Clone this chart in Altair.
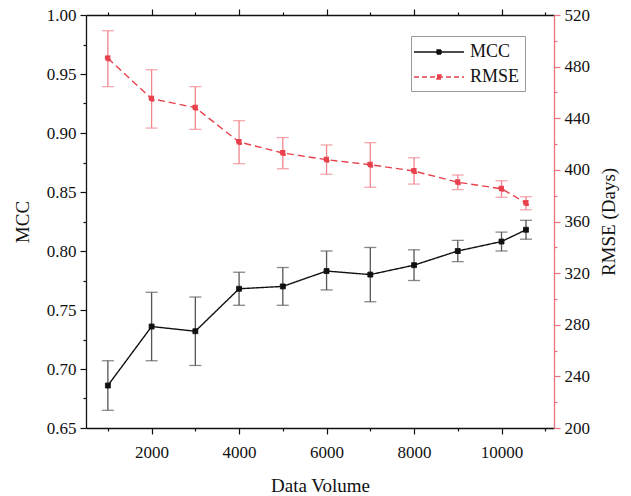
import altair as alt
import pandas as pd

# ---------------- data ----------------
volume = [1000, 2000, 3000, 4000, 5000, 6000, 7000, 8000, 9000, 10000, 10560]

mcc = [0.686, 0.736, 0.732, 0.768, 0.770, 0.783, 0.780, 0.788, 0.800, 0.808, 0.818]
mcc_lo = [0.665, 0.707, 0.703, 0.754, 0.754, 0.767, 0.757, 0.775, 0.791, 0.800, 0.810]
mcc_hi = [0.707, 0.765, 0.761, 0.782, 0.786, 0.800, 0.803, 0.801, 0.809, 0.816, 0.826]

rmse = [486.4, 455.2, 448.2, 421.6, 413.1, 407.9, 404.0, 399.1, 390.4, 385.4, 374.3]
rmse_lo = [464.5, 432.4, 431.4, 404.8, 400.9, 396.6, 386.5, 389.0, 384.7, 378.8, 369.1]
rmse_hi = [507.8, 477.6, 464.5, 438.1, 425.0, 419.3, 421.1, 409.4, 396.0, 391.6, 379.2]

series_names = ["MCC", "RMSE"]
x_tick_values = list(range(1000, 11001, 1000))
mcc_tick_values = [round(0.65 + 0.025 * i, 3) for i in range(15)]
rmse_tick_values = list(range(200, 521, 20))

mcc_df = pd.DataFrame({"volume": volume, "value": mcc, "lo": mcc_lo, "hi": mcc_hi, "series": "MCC"})
rmse_df = pd.DataFrame({"volume": volume, "value": rmse, "lo": rmse_lo, "hi": rmse_hi, "series": "RMSE"})

# ---------------- style ----------------
FONT = "Liberation Serif"
BLACK = "#111111"
RED = "#e8404c"
RED_LIGHT = "#f0858c"
RED_AXIS = "#e87480"
GRAY = "#555555"

x_scale = alt.Scale(domain=[500, 11200], nice=False, zero=False)
mcc_scale = alt.Scale(domain=[0.65, 1.0], nice=False, zero=False)
rmse_scale = alt.Scale(domain=[200, 520], nice=False, zero=False)

x_major = "datum.value % 2000 === 0"
x_tick_size = {"condition": {"test": x_major, "value": 6}, "value": 3}

x_bottom = alt.Axis(
    orient="bottom", values=x_tick_values,
    labelExpr=f"{x_major} ? format(datum.value, 'd') : ''",
    tickSize=x_tick_size, labelPadding=10, title="Data Volume", titlePadding=16,
    domainColor=BLACK, tickColor=BLACK,
)
x_top = alt.Axis(
    orient="top", values=x_tick_values, labels=False, title=None,
    tickSize=x_tick_size, domainColor=BLACK, tickColor=BLACK,
)
mcc_major = "round(datum.value * 1000) % 50 === 0"
y_left = alt.Axis(
    orient="left", values=mcc_tick_values,
    labelExpr=f"{mcc_major} ? format(datum.value, '.2f') : ''",
    tickSize={"condition": {"test": mcc_major, "value": 6}, "value": 3},
    labelPadding=4, title="MCC", titlePadding=14,
    domainColor=BLACK, tickColor=BLACK,
)
rmse_major = "datum.value % 40 === 0"
y_right = alt.Axis(
    orient="right", values=rmse_tick_values,
    labelExpr=f"{rmse_major} ? format(datum.value, 'd') : ''",
    tickSize={"condition": {"test": rmse_major, "value": 6}, "value": 3},
    labelPadding=4, title="RMSE (Days)", titlePadding=29, titleAngle=270,
    domainColor=RED_AXIS, tickColor=RED_AXIS,
)

# legend symbol: a line segment with a small square marker in the middle
legend_symbol = "M-2.5,0H2.5M-0.2,-0.2H0.2V0.2H-0.2Z"
legend = alt.Legend(
    title=None, orient="none", legendX=325, legendY=21,
    symbolType=legend_symbol, symbolSize=400, symbolStrokeWidth=1.3,
    symbolOffset=12, labelOffset=20,
    labelFont=FONT, labelFontSize=18, labelColor=BLACK,
    strokeColor="#9a9a9a", padding=5, rowPadding=5, fillColor="white",
)
fill_scale = alt.Scale(domain=series_names, range=[BLACK, RED])
dash_scale = alt.Scale(domain=series_names, range=[[1, 0], [5, 3]])


def group(df, y_scale, y_axis, x_axis, line_color, bar_color, dash):
    x = alt.X("volume:Q", scale=x_scale, axis=x_axis)
    base = alt.Chart(df)
    bars = base.mark_rule(color=bar_color, strokeWidth=1.3).encode(
        x=x, y=alt.Y("lo:Q", scale=y_scale, axis=y_axis), y2="hi:Q")
    cap_lo = base.mark_tick(color=bar_color, orient="horizontal", size=12, thickness=1.3).encode(
        x=x, y=alt.Y("lo:Q", scale=y_scale, axis=y_axis))
    cap_hi = base.mark_tick(color=bar_color, orient="horizontal", size=12, thickness=1.3).encode(
        x=x, y=alt.Y("hi:Q", scale=y_scale, axis=y_axis))
    line = base.mark_line(color=line_color, strokeWidth=1.4, strokeDash=dash).encode(
        x=x, y=alt.Y("value:Q", scale=y_scale, axis=y_axis))
    pts = base.mark_point(shape="square", filled=True, size=24, opacity=1, strokeWidth=1).encode(
        x=x, y=alt.Y("value:Q", scale=y_scale, axis=y_axis),
        fill=alt.Fill("series:N", scale=fill_scale, legend=legend),
        stroke=alt.Stroke("series:N", scale=fill_scale, legend=legend),
        strokeDash=alt.StrokeDash("series:N", scale=dash_scale, legend=legend),
    )
    return alt.layer(bars, cap_lo, cap_hi, line, pts)


mcc_layer = group(mcc_df, mcc_scale, y_left, x_bottom, BLACK, GRAY, [1, 0])
rmse_layer = group(rmse_df, rmse_scale, y_right, x_top, RED, RED_LIGHT, [7, 4])

chart = (
    alt.layer(mcc_layer, rmse_layer)
    .resolve_scale(y="independent")
    .resolve_axis(x="independent", y="independent")
    .properties(
        width=468, height=413,
        autosize=alt.AutoSizeParams(type="none"),
        padding={"left": 78, "top": 7, "right": 69, "bottom": 75},
    )
    .configure_view(stroke=None)
    .configure_axis(
        grid=False, labelFont=FONT, labelFontSize=17, labelColor=BLACK,
        titleFont=FONT, titleFontSize=19, titleFontWeight="normal", titleColor=BLACK,
        domainWidth=1.3, tickWidth=1.2,
    )
)

chart.save("out.html", embed_options={"renderer": "svg", "actions": False})
